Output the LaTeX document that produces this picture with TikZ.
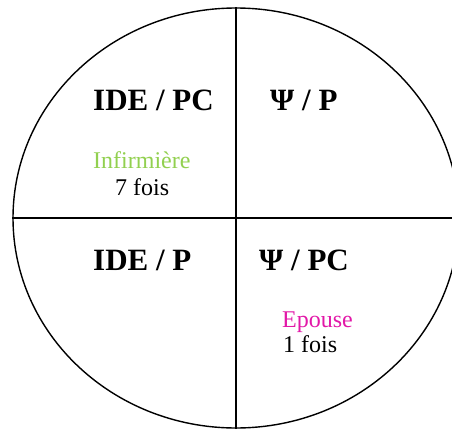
\documentclass[tikz,border=0pt]{standalone}
\usepackage{fontspec}
\setmainfont{Liberation Serif}
\usetikzlibrary{positioning,shapes.geometric}
\definecolor{InfGreen}{RGB}{146,208,80}
\definecolor{EpMagenta}{RGB}{226,24,168}
\tikzset{
  disc/.style={ellipse,draw=black,line width=1.4pt,minimum width=446pt,
               minimum height=420pt,inner sep=0pt},
  split/.style={draw=black,line width=1.4pt},
  quad/.style={anchor=base west,inner sep=0pt,font=\fontsize{31}{36}\selectfont\bfseries},
  who/.style={anchor=base west,inner sep=0pt,font=\fontsize{24}{28}\selectfont},
}

\begin{document}
\begin{tikzpicture}[x=1pt,y=-1pt]
  \useasboundingbox (0,0) rectangle (452,428);
  \clip (0,0) rectangle (452,428);
  \node[disc] (D) at (236,218) {};
  \draw[split] (D.north) -- (D.south);
  \draw[split] (D.west) -- (D.east);
  % quadrants
  \node[quad] (ideC) at (93,110) {IDE / PC};
  \node[quad] (psiP) at (270,110) {Ψ / P};
  \node[quad] (ideP) at (93,270) {IDE / P};
  \node[quad] (psiC) at (259,270) {Ψ / PC};
  % who asked
  \node[who,text=InfGreen] (inf) at (93,168) {Infirmière};
  \node[who] (infN) at (115,195) {7 fois};
  \node[who,text=EpMagenta] (ep) at (282,327) {Epouse};
  \node[who] (epN) at (283,352) {1 fois};
\end{tikzpicture}
\end{document}
